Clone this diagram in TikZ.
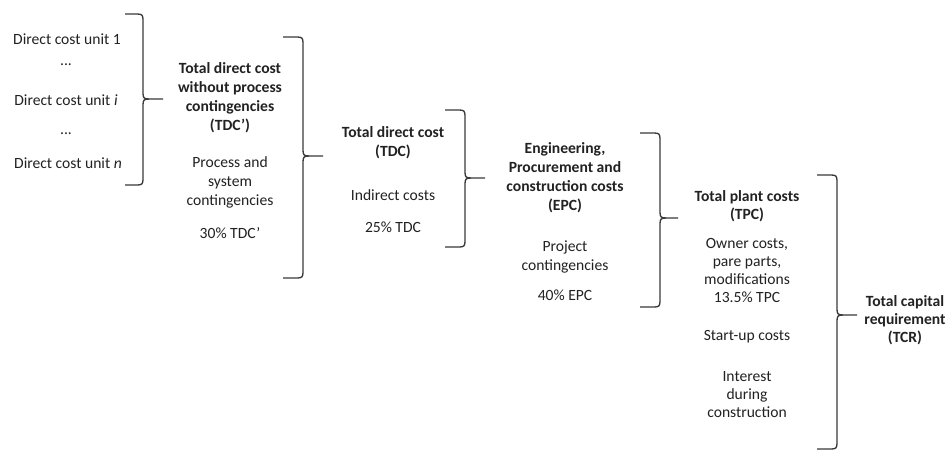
\documentclass[tikz,border=0pt]{standalone}
\usepackage{fontspec}
\setmainfont{Carlito}
\definecolor{txt}{HTML}{222222}
\definecolor{brc}{HTML}{3A3A3A}
\tikzset{
  lbl/.style={inner sep=0pt, align=center, text=txt, font=\fontsize{15.6}{19}\selectfont},
  blbl/.style={lbl, font=\fontsize{15.6}{19}\selectfont\bfseries},
  brace/.style={draw=brc, line width=1.3pt, line join=round}
}
% \mybrace{a}{v}{t}{top}{mid}{bot}
\newcommand{\mybrace}[6]{%
  \draw[brace] (#1,#4) -- ({#2-6},#4) .. controls ({#2-1},#4) and (#2,{#4+1}) .. (#2,{#4+6})
    -- (#2,{#5-6}) .. controls (#2,{#5-1}) and ({#2+1},#5) .. ({#2+6},#5) -- (#3,#5);
  \draw[brace] ({#2+6},#5) .. controls ({#2+1},#5) and (#2,{#5+1}) .. (#2,{#5+6})
    -- (#2,{#6-6}) .. controls (#2,{#6-1}) and ({#2-1},#6) .. ({#2-6},#6) -- (#1,#6);
}
\begin{document}
\begin{tikzpicture}[x=1pt,y=-1pt]
\useasboundingbox[fill=white] (0,0) rectangle (952,451);
% column 1
\node[lbl] (d1) at (67,39) {Direct cost unit 1};
\node[lbl] (dd1) at (66,65) {...};
\node[lbl] (di) at (66,100) {Direct cost unit \textit{i}};
\node[lbl] (dd2) at (66,134) {...};
\node[lbl] (dn) at (68,163) {Direct cost unit \textit{n}};
% column 2
\node[blbl] (tdcp) at (230,98) {Total direct cost\\without process\\contingencies\\(TDC')};
\node[lbl] (psc) at (230,182.5) {Process and\\system\\contingencies};
\node[lbl] (p30) at (230,233) {30\% TDC'};
% column 3
\node[blbl] (tdc) at (393,143) {Total direct cost\\(TDC)};
\node[lbl] (ind) at (393,195) {Indirect costs};
\node[lbl] (p25) at (393,227) {25\% TDC};
% column 4
\node[blbl] (epc) at (565,177.5) {Engineering,\\Procurement and\\construction costs\\(EPC)};
\node[lbl] (pc) at (565,257) {Project\\contingencies};
\node[lbl] (p40) at (565,295) {40\% EPC};
% column 5
\node[blbl, font=\fontsize{15.6}{18}\selectfont\bfseries] (tpc) at (747,206) {Total plant costs\\(TPC)};
\node[lbl, font=\fontsize{15.6}{18.3}\selectfont] (own) at (747,270.5) {Owner costs,\\pare parts,\\modifications\\13.5\% TPC};
\node[lbl] (su) at (747,337) {Start-up costs};
\node[lbl, font=\fontsize{15.6}{18}\selectfont] (int) at (747,395) {Interest\\during\\construction};
% column 6
\node[blbl, font=\fontsize{15.6}{18}\selectfont\bfseries] (tcr) at (905,320) {Total capital\\requirement\\(TCR)};
% braces
\mybrace{125}{143}{163}{14}{99}{185}
\mybrace{283}{303}{323}{37}{156}{278}
\mybrace{445}{465}{485}{110}{178}{247}
\mybrace{640}{660}{678}{133}{218}{307}
\mybrace{817}{837}{857}{175}{315}{449}
\end{tikzpicture}
\end{document}
